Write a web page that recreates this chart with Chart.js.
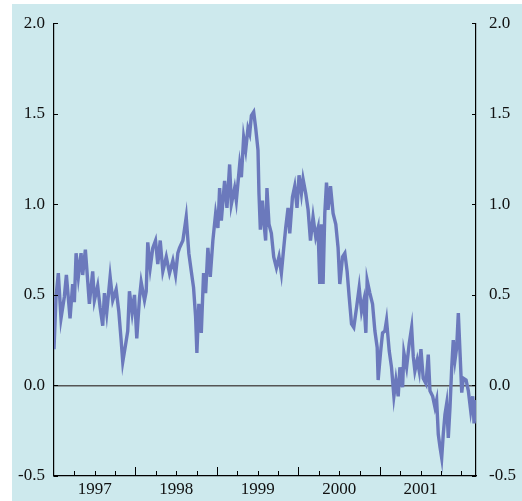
<!DOCTYPE html>
<html>
<head>
<meta charset="utf-8">
<script src="https://cdn.jsdelivr.net/npm/chart.js@4"></script>
<style>
  html, body { margin: 0; padding: 0; background: #ffffff; }
  #wrap { position: relative; width: 522px; height: 501px; overflow: hidden; }
  #panel { position: absolute; left: 12px; top: 4px; right: 0; bottom: 0; background: #cde9ed; }
  #chart { position: absolute; left: 0; top: 0; }
</style>
</head>
<body>
<div id="wrap">
  <div id="panel"></div>
  <canvas id="chart" width="522" height="501"></canvas>
</div>
<script>
// fechas en años decimales (1997.0 = 1 de enero de 1997)
const dates = [
  1997.000, 1997.025, 1997.053, 1997.086, 1997.127, 1997.152, 1997.197, 1997.229, 1997.250, 1997.271,
  1997.299, 1997.332, 1997.352, 1997.385, 1997.410, 1997.434, 1997.475, 1997.496, 1997.536, 1997.566,
  1997.598, 1997.619, 1997.647, 1997.689, 1997.721, 1997.763, 1997.795, 1997.824, 1997.844, 1997.877,
  1997.905, 1997.926, 1997.959, 1997.988, 1998.016, 1998.049, 1998.070, 1998.111, 1998.132, 1998.151,
  1998.181, 1998.213, 1998.246, 1998.274, 1998.304, 1998.336, 1998.378, 1998.418, 1998.459, 1998.492,
  1998.520, 1998.541, 1998.582, 1998.623, 1998.655, 1998.685, 1998.713, 1998.738, 1998.754, 1998.778,
  1998.808, 1998.836, 1998.861, 1998.889, 1998.918, 1998.950, 1998.984, 1999.012, 1999.033, 1999.054,
  1999.094, 1999.123, 1999.156, 1999.177, 1999.217, 1999.238, 1999.279, 1999.300, 1999.328, 1999.353,
  1999.381, 1999.402, 1999.423, 1999.451, 1999.476, 1999.504, 1999.516, 1999.533, 1999.558, 1999.574,
  1999.598, 1999.614, 1999.639, 1999.668, 1999.697, 1999.730, 1999.762, 1999.791, 1999.820, 1999.844,
  1999.873, 1999.894, 1999.927, 1999.955, 1999.983, 2000.008, 2000.037, 2000.057, 2000.090, 2000.119,
  2000.148, 2000.180, 2000.213, 2000.241, 2000.262, 2000.283, 2000.303, 2000.324, 2000.345, 2000.364,
  2000.394, 2000.426, 2000.459, 2000.487, 2000.508, 2000.542, 2000.570, 2000.598, 2000.623, 2000.652,
  2000.680, 2000.714, 2000.746, 2000.775, 2000.803, 2000.828, 2000.844, 2000.877, 2000.910, 2000.939,
  2000.967, 2000.979, 2001.008, 2001.033, 2001.061, 2001.082, 2001.115, 2001.143, 2001.172, 2001.197,
  2001.225, 2001.246, 2001.279, 2001.295, 2001.328, 2001.360, 2001.390, 2001.410, 2001.430, 2001.459,
  2001.483, 2001.504, 2001.532, 2001.566, 2001.594, 2001.615, 2001.648, 2001.676, 2001.697, 2001.717,
  2001.738, 2001.759, 2001.778, 2001.799, 2001.820, 2001.840, 2001.861, 2001.882, 2001.901, 2001.922,
  2001.943, 2001.963, 2001.984, 2002.005, 2002.024, 2002.058, 2002.086, 2002.115, 2002.140, 2002.156,
  2002.180
];

// diferencial (puntos porcentuales)
const spread = [
  0.20, 0.49, 0.62, 0.37, 0.49, 0.61, 0.37, 0.56, 0.46, 0.73,
  0.60, 0.73, 0.61, 0.75, 0.60, 0.45, 0.63, 0.47, 0.55, 0.43,
  0.33, 0.51, 0.40, 0.60, 0.47, 0.53, 0.41, 0.25, 0.13, 0.22,
  0.30, 0.52, 0.40, 0.50, 0.26, 0.48, 0.57, 0.47, 0.52, 0.79,
  0.65, 0.76, 0.80, 0.67, 0.80, 0.63, 0.71, 0.62, 0.69, 0.61,
  0.73, 0.76, 0.80, 0.93, 0.73, 0.63, 0.54, 0.38, 0.18, 0.45,
  0.29, 0.62, 0.51, 0.76, 0.60, 0.80, 0.95, 0.87, 1.09, 0.91,
  1.13, 0.98, 1.22, 1.00, 1.09, 1.02, 1.22, 1.15, 1.37, 1.30,
  1.42, 1.39, 1.49, 1.51, 1.42, 1.30, 1.06, 0.86, 1.02, 0.91,
  0.80, 1.09, 0.89, 0.84, 0.71, 0.65, 0.71, 0.62, 0.76, 0.87,
  0.98, 0.84, 1.04, 1.10, 0.98, 1.16, 1.06, 1.14, 1.06, 0.97,
  0.80, 0.93, 0.82, 0.87, 0.56, 0.89, 0.56, 0.95, 1.12, 0.97,
  1.10, 0.95, 0.89, 0.76, 0.56, 0.71, 0.73, 0.63, 0.49, 0.34,
  0.32, 0.43, 0.54, 0.41, 0.47, 0.29, 0.58, 0.51, 0.45, 0.30,
  0.21, 0.03, 0.18, 0.29, 0.30, 0.36, 0.19, 0.10, -0.06, 0.03,
  -0.06, 0.10, -0.01, 0.18, 0.10, 0.23, 0.32, 0.16, 0.08, 0.14,
  0.08, 0.20, 0.04, 0.01, 0.17, -0.03, -0.06, -0.12, -0.08, -0.27,
  -0.34, -0.40, -0.27, -0.16, -0.10, -0.29, -0.12, 0.10, 0.25, 0.14,
  0.21, 0.40, 0.18, -0.04, 0.04, 0.03, -0.03, -0.14, -0.06, -0.21,
  -0.08
];

const yearLabels = [1997, 1998, 1999, 2000, 2001];
const majorTicks = [1998, 1999, 2000, 2001];
const yTicks = [-0.5, 0.0, 0.5, 1.0, 1.5, 2.0];

const serif = { family: "'Liberation Serif', 'Times New Roman', serif", size: 17 };
const textColor = '#111111';

// marcas de los ejes hacia dentro del gráfico
const tickMarks = {
  id: 'tickMarks',
  afterDraw(chart) {
    const { ctx, chartArea, scales } = chart;
    ctx.save();
    ctx.strokeStyle = '#000';
    ctx.lineWidth = 1;
    ctx.beginPath();
    scales.x.ticks.forEach(t => {
      const q = Math.round(t.value * 4) / 4;
      if (Math.abs(q - t.value) > 1e-6) return;
      if (t.value <= scales.x.min || t.value >= scales.x.max) return;
      const px = Math.round(scales.x.getPixelForValue(t.value)) + 0.5;
      const len = majorTicks.includes(t.value) ? 9 : 5;
      ctx.moveTo(px, chartArea.bottom);
      ctx.lineTo(px, chartArea.bottom - len);
    });
    yTicks.forEach(v => {
      const py = Math.round(scales.y.getPixelForValue(v)) + 0.5;
      ctx.moveTo(chartArea.left, py);
      ctx.lineTo(chartArea.left + 4, py);
      ctx.moveTo(chartArea.right, py);
      ctx.lineTo(chartArea.right - 4, py);
    });
    ctx.stroke();
    ctx.restore();
  }
};

new Chart(document.getElementById('chart'), {
  type: 'line',
  data: {
    datasets: [{
      data: dates.map((d, i) => ({ x: d, y: spread[i] })),
      borderColor: '#6b79bc',
      borderWidth: 3.4,
      borderJoinStyle: 'miter',
      pointRadius: 0,
      tension: 0,
      yAxisID: 'y'
    }]
  },
  options: {
    responsive: false,
    animation: false,
    devicePixelRatio: 1,
    layout: { padding: { top: 23, left: 0, right: 0, bottom: 0 } },
    plugins: { legend: { display: false }, tooltip: { enabled: false } },
    scales: {
      x: {
        type: 'linear',
        min: 1997,
        max: 2002.18,
        afterFit(s) { s.height = 25; },
        grid: { display: false, drawTicks: false },
        border: { display: true, color: '#000', width: 1.2 },
        ticks: {
          stepSize: 0.25,
          includeBounds: false,
          autoSkip: false,
          maxRotation: 0,
          padding: 3,
          font: serif,
          color: textColor,
          callback: v => {
            const y = Math.floor(v);
            return (Math.abs(v - y - 0.5) < 1e-6 && yearLabels.includes(y)) ? String(y) : '';
          }
        }
      },
      y: {
        position: 'left',
        min: -0.5,
        max: 2.0,
        afterFit(s) { s.width = 54; },
        grid: {
          drawTicks: false,
          color: c => (c.tick && c.tick.value === 0) ? '#555555' : 'rgba(0,0,0,0)',
          lineWidth: 1.5
        },
        border: { display: true, color: '#000', width: 1.2 },
        ticks: {
          stepSize: 0.5,
          padding: 9,
          font: serif,
          color: textColor,
          callback: v => v.toFixed(1)
        }
      },
      y2: {
        position: 'right',
        min: -0.5,
        max: 2.0,
        afterFit(s) { s.width = 46; },
        grid: { display: false, drawTicks: false },
        border: { display: true, color: '#000', width: 1.2 },
        ticks: {
          stepSize: 0.5,
          padding: 13,
          font: serif,
          color: textColor,
          callback: v => v.toFixed(1)
        }
      }
    }
  },
  plugins: [tickMarks]
});
</script>
</body>
</html>
